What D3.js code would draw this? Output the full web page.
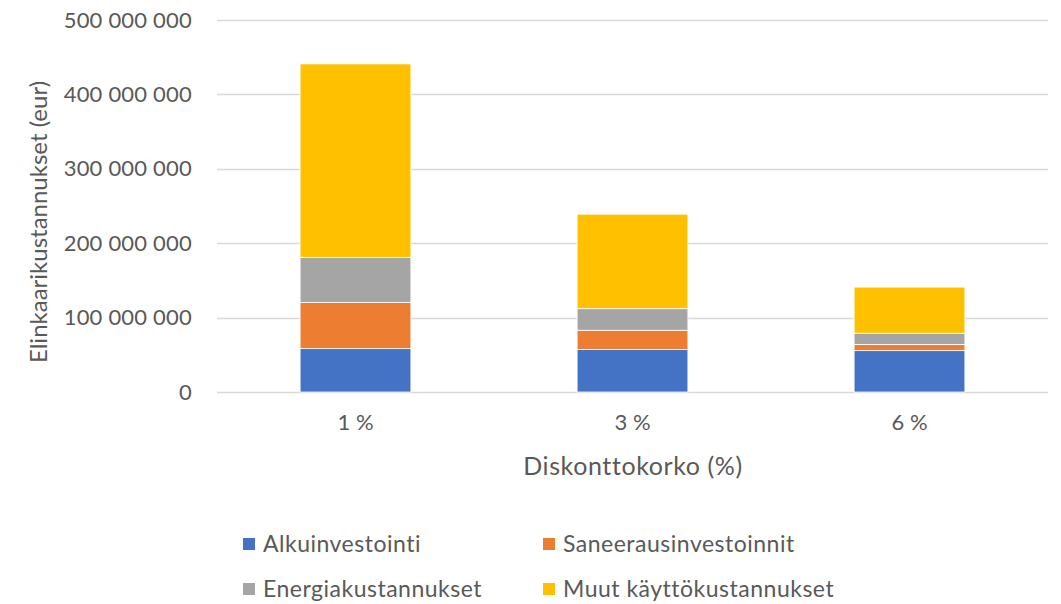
<!DOCTYPE html>
<html>
<head>
<meta charset="utf-8">
<script src="https://cdn.jsdelivr.net/npm/d3@7"></script>
<style>
  body { margin: 0; background: #fff; }
  svg text { font-family: Lato, "Open Sans", sans-serif; fill: #595959; }
</style>
</head>
<body>
<div id="chart"></div>
<script>
// discount rates on x
const categories = ['1 %', '3 %', '6 %'];
const seriesNames = ['Alkuinvestointi', 'Saneerausinvestoinnit', 'Energiakustannukset', 'Muut käyttökustannukset'];
const seriesColors = ['#4472C4', '#ED7D31', '#A5A5A5', '#FFC000'];
// values in eur
const alkuinvestointi = [58300000, 57000000, 55600000];
const saneeraus = [61900000, 26000000, 8400000];
const energia = [60800000, 29000000, 15000000];
const muut = [260000000, 127000000, 62000000];
const yTicks = [0, 100000000, 200000000, 300000000, 400000000, 500000000];

const width = 1061, height = 604;
const margin = { top: 20, right: 13, bottom: 212, left: 217 };
const innerW = width - margin.left - margin.right;
const innerH = height - margin.top - margin.bottom;

const rows = categories.map((c, i) => ({
  cat: c,
  [seriesNames[0]]: alkuinvestointi[i],
  [seriesNames[1]]: saneeraus[i],
  [seriesNames[2]]: energia[i],
  [seriesNames[3]]: muut[i]
}));

const stacked = d3.stack().keys(seriesNames)(rows);

const svg = d3.select('#chart').append('svg')
  .attr('width', width)
  .attr('height', height);

const g = svg.append('g')
  .attr('transform', `translate(${margin.left},${margin.top})`);

const x = d3.scaleBand()
  .domain(categories)
  .range([0, innerW])
  .paddingInner(0.6)
  .paddingOuter(0.3);

const y = d3.scaleLinear()
  .domain([0, 500000000])
  .range([innerH, 0]);

const fmt = v => d3.format(',')(v).replace(/,/g, ' ');

// gridlines
g.append('g')
  .selectAll('line')
  .data(yTicks)
  .enter()
  .append('line')
  .attr('x1', 0)
  .attr('x2', innerW)
  .attr('y1', d => Math.round(y(d)) + 0.5)
  .attr('y2', d => Math.round(y(d)) + 0.5)
  .attr('stroke', '#D9D9D9')
  .attr('stroke-width', 1.3);

// bars
g.append('g')
  .selectAll('g')
  .data(stacked)
  .enter()
  .append('g')
  .attr('fill', (d, i) => seriesColors[i])
  .selectAll('rect')
  .data(d => d)
  .enter()
  .append('rect')
  .attr('x', d => x(d.data.cat))
  .attr('y', d => y(d[1]))
  .attr('width', x.bandwidth())
  .attr('height', d => y(d[0]) - y(d[1]))
  .attr('stroke', '#fff')
  .attr('stroke-width', 0.8);

// y axis
const yAxis = d3.axisLeft(y)
  .tickValues(yTicks)
  .tickFormat(fmt)
  .tickSize(0)
  .tickPadding(25);

g.append('g')
  .call(yAxis)
  .call(s => s.select('.domain').remove())
  .selectAll('text')
  .style('font-size', '22px')
  .style('font-family', 'Lato, sans-serif')
  .style('letter-spacing', '0.2px')
  .attr('fill', '#595959');

// x axis
const xAxis = d3.axisBottom(x).tickSize(0).tickPadding(22);

g.append('g')
  .attr('transform', `translate(0,${innerH})`)
  .call(xAxis)
  .call(s => s.select('.domain').remove())
  .selectAll('text')
  .style('font-size', '22px')
  .style('font-family', 'Lato, sans-serif')
  .attr('fill', '#595959');

// axis titles
svg.append('text')
  .attr('x', 633)
  .attr('y', 475)
  .attr('text-anchor', 'middle')
  .style('font-size', '25px')
  .style('letter-spacing', '0.6px')
  .text('Diskonttokorko (%)');

svg.append('text')
  .attr('transform', 'translate(47,222) rotate(-90)')
  .attr('text-anchor', 'middle')
  .style('font-size', '24px')
  .text('Elinkaarikustannukset (eur)');

// legend
const legendPos = [[243, 544], [543, 544], [243, 589], [543, 589]];
const legend = svg.append('g')
  .selectAll('g')
  .data(seriesNames)
  .enter()
  .append('g')
  .attr('transform', (d, i) => `translate(${legendPos[i][0]},${legendPos[i][1]})`);

legend.append('rect')
  .attr('x', 0)
  .attr('y', -6)
  .attr('width', 12)
  .attr('height', 12)
  .attr('fill', (d, i) => seriesColors[i]);

legend.append('text')
  .attr('x', 20)
  .attr('y', 0)
  .attr('dy', '0.35em')
  .style('font-size', '23px')
  .style('letter-spacing', '0.5px')
  .text(d => d);
</script>
</body>
</html>
